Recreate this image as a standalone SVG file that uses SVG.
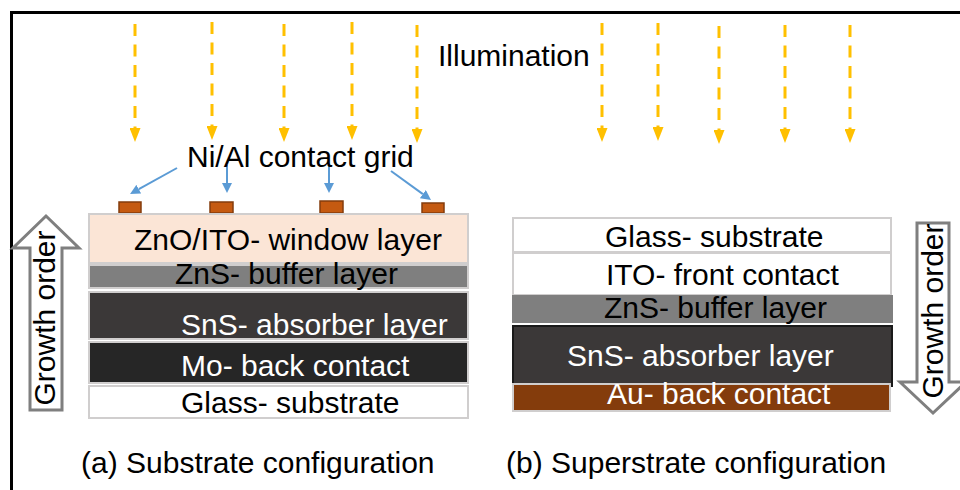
<svg xmlns="http://www.w3.org/2000/svg" width="960" height="490" viewBox="0 0 960 490">
<style>
text{font-family:"Liberation Sans",Arial,sans-serif;font-size:30px;fill:#000}
.w{fill:#fff}
.lay{stroke:#d0cece;stroke-width:2}
.ct{fill:#c55a11;stroke:#843c0c;stroke-width:1.5}
.sun{stroke:#ffc000;stroke-width:3;stroke-dasharray:12 8.5;fill:none}
.ptr{stroke:#5b9bd5;stroke-width:2;fill:none}
.grow{fill:#fff;stroke:#7f7f7f;stroke-width:3}
</style>
<defs>
<marker id="ys" markerUnits="userSpaceOnUse" markerWidth="14" markerHeight="11" viewBox="0 0 14 11" refX="0" refY="5.5" orient="auto"><path d="M0,0 L14,5.5 L0,11 z" fill="#ffc000"/></marker>
<marker id="bl" markerUnits="userSpaceOnUse" markerWidth="10" markerHeight="10" viewBox="0 0 10 10" refX="0" refY="5" orient="auto"><path d="M0,0 L10,5 L0,10 z" fill="#5b9bd5"/></marker>
</defs>
<rect width="960" height="490" fill="#fff"/>
<path d="M11.5,490 V12.5 H960" fill="none" stroke="#000" stroke-width="3"/>

<g id="illumination">
<text x="438" y="66">Illumination</text>
</g>

<g id="connectors">
<line class="sun" x1="135" y1="24" x2="135" y2="128" marker-end="url(#ys)"/>
<line class="sun" x1="212" y1="22" x2="212" y2="126" marker-end="url(#ys)"/>
<line class="sun" x1="284" y1="24" x2="284" y2="128" marker-end="url(#ys)"/>
<line class="sun" x1="352" y1="22" x2="352" y2="126" marker-end="url(#ys)"/>
<line class="sun" x1="417" y1="25" x2="417" y2="129" marker-end="url(#ys)"/>
<line class="sun" x1="602" y1="23" x2="602" y2="128" marker-end="url(#ys)"/>
<line class="sun" x1="658" y1="23" x2="658" y2="127" marker-end="url(#ys)"/>
<line class="sun" x1="719" y1="26" x2="719" y2="130" marker-end="url(#ys)"/>
<line class="sun" x1="785" y1="25" x2="785" y2="129" marker-end="url(#ys)"/>
<line class="sun" x1="850" y1="25" x2="850" y2="129" marker-end="url(#ys)"/>
<line class="ptr" x1="177" y1="168" x2="138.8" y2="189.2" marker-end="url(#bl)"/>
<line class="ptr" x1="227" y1="165" x2="227" y2="183" marker-end="url(#bl)"/>
<line class="ptr" x1="329" y1="165" x2="329" y2="183" marker-end="url(#bl)"/>
<line class="ptr" x1="391" y1="171" x2="422.9" y2="194.1" marker-end="url(#bl)"/>
</g>

<g id="grid-label">
<text x="187" y="167">Ni/Al contact grid</text>
</g>

<g id="contact-grid">
<rect class="ct" x="119" y="202" width="22" height="11"/>
<rect class="ct" x="210" y="202" width="23" height="11"/>
<rect class="ct" x="320" y="201" width="23" height="12"/>
<rect class="ct" x="422" y="203" width="22" height="10"/>
</g>

<g id="a-window">
<rect class="lay" x="89" y="214" width="379" height="49" fill="#fbe5d6"/>
<text x="134" y="250">ZnO/ITO- window layer</text>
</g>
<g id="a-buffer">
<rect class="lay" x="89" y="265" width="379" height="23" fill="#7f7f7f"/>
<text x="175" y="284">ZnS- buffer layer</text>
</g>
<g id="a-absorber">
<rect class="lay" x="89" y="292" width="379" height="47" fill="#3b3838"/>
<text class="w" x="181" y="335">SnS- absorber layer</text>
</g>
<g id="a-back">
<rect class="lay" x="89" y="342" width="379" height="41" fill="#262626"/>
<text class="w" x="181" y="376">Mo- back contact</text>
</g>
<g id="a-glass">
<rect class="lay" x="89" y="386" width="379" height="32" fill="#fff"/>
<text x="181" y="413">Glass- substrate</text>
</g>

<g id="a-growth">
<path class="grow" d="M46,216 L79,248 L62,248 L62,410 L30,410 L30,248 L13,248 Z"/>
<text transform="translate(55,318) rotate(-90)" text-anchor="middle">Growth order</text>
</g>

<g id="b-glass">
<rect class="lay" x="513" y="218" width="378" height="34" fill="#fff"/>
<text x="605" y="247">Glass- substrate</text>
</g>
<g id="b-ito">
<rect class="lay" x="513" y="253" width="378" height="42" fill="#fff"/>
<text x="606" y="285">ITO- front contact</text>
</g>
<g id="b-buffer">
<rect x="512" y="295" width="381" height="28" fill="#7f7f7f"/>
<text x="604" y="318">ZnS- buffer layer</text>
</g>
<g id="b-absorber">
<rect x="513" y="326" width="379" height="60" fill="#3b3838" stroke="#1a1a1a" stroke-width="2"/>
<text class="w" x="567" y="366">SnS- absorber layer</text>
</g>
<g id="b-back">
<rect class="lay" x="513" y="384" width="377" height="27" fill="#843c0c"/>
<text class="w" x="607" y="404">Au- back contact</text>
</g>

<g id="b-growth">
<path class="grow" d="M917,223 L949,223 L949,382 L966,382 L933,413 L900,382 L917,382 Z"/>
<text transform="translate(943,311) rotate(-90)" text-anchor="middle">Growth order</text>
</g>

<g id="captions">
<text x="81" y="473">(a) Substrate configuration</text>
<text x="506" y="473">(b) Superstrate configuration</text>
</g>
</svg>
